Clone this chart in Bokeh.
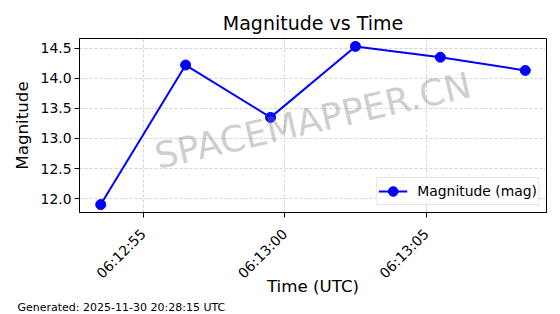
import math
import pandas as pd
from bokeh.plotting import figure
from bokeh.models import (ColumnDataSource, Range1d, FixedTicker, DatetimeTickFormatter,
                          PrintfTickFormatter, Label, Legend, LegendItem, Title)
from bokeh.embed import file_html
from bokeh.resources import INLINE

# ---- data ----
date = "2025-11-30"
times = ["06:12:53.5", "06:12:56.5", "06:12:59.5", "06:13:02.5", "06:13:05.5", "06:13:08.5"]
magnitudes = [11.90, 14.22, 13.35, 14.53, 14.35, 14.13]
x_tick_labels = ["06:12:55", "06:13:00", "06:13:05"]
y_ticks = [12.0, 12.5, 13.0, 13.5, 14.0, 14.5]
title_text = "Magnitude vs Time"
x_label = "Time (UTC)"
y_label = "Magnitude"
series_label = "Magnitude (mag)"
footer_text = "Generated: 2025-11-30 20:28:15 UTC"
watermark_text = "SPACEMAPPER.CN"

t = pd.to_datetime([f"{date} {s}" for s in times])
src = ColumnDataSource(dict(t=t, m=magnitudes))

span_t = (t.max() - t.min())
x0 = t.min() - 0.05 * span_t
x1 = t.max() + 0.05 * span_t
span_m = max(magnitudes) - min(magnitudes)
y0 = min(magnitudes) - 0.05 * span_m
y1 = max(magnitudes) + 0.05 * span_m

FONT = "DejaVu Sans"

p = figure(width=560, height=314, x_axis_type="datetime",
           x_range=Range1d(x0, x1), y_range=Range1d(y0, y1),
           output_backend="svg", toolbar_location=None,
           min_border_left=79, min_border_right=14, min_border_top=38, min_border_bottom=102)

p.title.text = title_text
p.title.align = "center"
p.title.text_font = FONT
p.title.text_font_size = "19px"
p.title.text_font_style = "normal"
p.title.text_color = "black"

p.outline_line_color = "black"
p.outline_line_width = 1
p.outline_line_alpha = 1

# grid
for g in (p.xgrid, p.ygrid):
    g.grid_line_color = "#c8c8c8"
    g.grid_line_dash = "3 2"
    g.grid_line_width = 0.8

# x axis
xticks_ms = [pd.Timestamp(f"{date} {s}").value / 1e6 for s in x_tick_labels]
p.xaxis.ticker = FixedTicker(ticks=xticks_ms)
fmt = "%H:%M:%S"
p.xaxis.formatter = DatetimeTickFormatter(milliseconds=fmt, seconds=fmt, minsec=fmt, minutes=fmt,
                                          hourmin=fmt, hours=fmt, days=fmt, months=fmt, years=fmt)
p.xaxis.major_label_orientation = math.pi / 4
p.xaxis.axis_label = x_label

# y axis
p.yaxis.ticker = FixedTicker(ticks=y_ticks)
p.yaxis.formatter = PrintfTickFormatter(format="%.1f")
p.yaxis.axis_label = y_label

for ax in (p.xaxis[0], p.yaxis[0]):
    ax.major_tick_out = 5
    ax.major_tick_in = 0
    ax.minor_tick_out = 0
    ax.minor_tick_in = 0
    ax.major_tick_line_color = "black"
    ax.axis_line_color = "black"
    ax.major_label_text_font = FONT
    ax.major_label_text_font_size = "13.9px"
    ax.major_label_text_color = "black"
    ax.axis_label_text_font = FONT
    ax.axis_label_text_font_size = "16.7px"
    ax.axis_label_text_font_style = "normal"
    ax.axis_label_text_color = "black"
    ax.major_label_standoff = 3
    ax.axis_label_standoff = 6

p.xaxis.major_label_standoff = 14
p.xaxis.axis_label_standoff = -14
p.xaxis.axis_label_text_line_height = 1.0

# series
ln = p.line("t", "m", source=src, line_color="blue", line_width=2)
sc = p.scatter("t", "m", source=src, size=10, fill_color="blue", line_color="blue")

legend = Legend(items=[LegendItem(label=series_label, renderers=[ln, sc])],
                location="bottom_right")
legend.label_text_font = FONT
legend.label_text_font_size = "13.9px"
legend.label_text_color = "black"
legend.border_line_color = "#cccccc"
legend.border_line_width = 1
legend.background_fill_alpha = 0.8
legend.margin = 7
legend.padding = 1
legend.spacing = 0
legend.glyph_width = 29
legend.glyph_height = 24
legend.label_standoff = 10
legend.label_height = 17
p.add_layout(legend)

# watermark at the centre of the plot area
wm = Label(x=x0 + (x1 - x0) / 2, y=(y0 + y1) / 2, y_offset=5, text=watermark_text,
           angle=13, angle_units="deg", text_align="center", text_baseline="middle",
           text_font=FONT, text_font_size="36px", text_color="gray", text_alpha=0.4)
p.add_layout(wm)

# footer
ft = Title(text=footer_text, align="left", offset=-62, standoff=0,
           text_font=FONT, text_font_size="11px", text_font_style="normal", text_color="black",
           text_line_height=1.0)
p.add_layout(ft, "below")

open("out.html", "w").write(file_html(p, INLINE))
